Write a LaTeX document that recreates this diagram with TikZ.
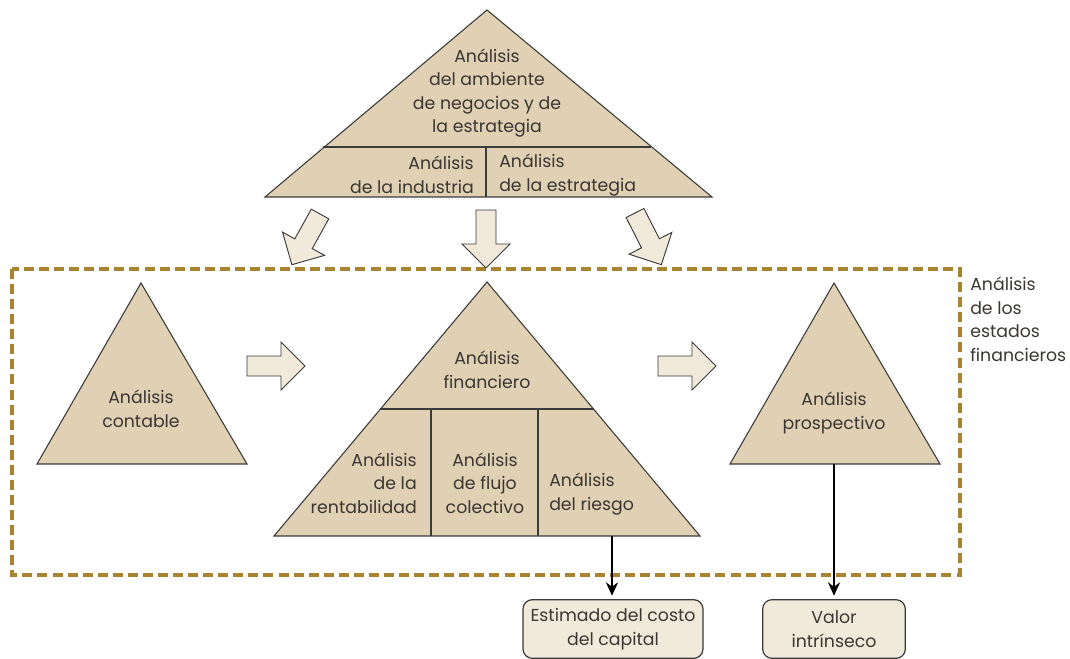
\documentclass[tikz,border=0pt]{standalone}
\usepackage{fontspec}
\setmainfont{Poppins}
\usetikzlibrary{arrows.meta, positioning, calc}
\definecolor{tanfill}{HTML}{E0D1B5}
\definecolor{creamfill}{HTML}{F1E9DA}
\definecolor{goldline}{HTML}{A98330}
\definecolor{inkgray}{HTML}{3B3632}
\definecolor{edgegray}{HTML}{3A3A3A}

\begin{document}
\begin{tikzpicture}[
    x=0.75pt, y=-0.75pt,
    every node/.style={font=\fontsize{13}{17.6}\selectfont, text=inkgray},
    tri/.style={fill=tanfill, draw=edgegray, line width=0.8pt},
    divline/.style={draw=edgegray, line width=0.8pt},
    lbl/.style={align=center, inner sep=0pt},
    blk/.style={fill=creamfill, draw=edgegray, line width=0.7pt},
    outbox/.style={rectangle, draw=edgegray, fill=creamfill, rounded corners=7pt,
                   line width=0.9pt, minimum height=44pt, align=center, inner sep=2pt},
    arr/.style={-{Stealth[length=10pt, width=9pt]}, line width=2pt, black, shorten >=2.5pt},
    frame/.style={draw=goldline, line width=2.4pt, dash pattern=on 7.5pt off 3.8pt},
    blockarr/.pic={\filldraw[blk] (0,-10) -- (34,-10) -- (34,-24) -- (58,0)
                   -- (34,24) -- (34,10) -- (0,10) -- cycle;}
]
    \useasboundingbox (0,0) rectangle (1070,659);

    % corner points of the triangles
    \coordinate (envtop) at (487,10);
    \coordinate (envbl) at (265,197);
    \coordinate (envbr) at (712,197);
    \coordinate (acctop) at (141,283);
    \coordinate (accbl) at (37,464);
    \coordinate (accbr) at (247,464);
    \coordinate (fintop) at (487,282);
    \coordinate (finbl) at (274,536);
    \coordinate (finbr) at (700,536);
    \coordinate (protop) at (834,283);
    \coordinate (probl) at (730,464);
    \coordinate (probr) at (940,464);

    % dashed frame of the statement analysis
    \draw[frame] (12,269) rectangle (960,575);

    % business strategy pyramid
    \filldraw[tri] (envtop) -- (envbl) -- (envbr) -- cycle;
    \draw[divline] (323,147) -- (651,147);
    \draw[divline] (486,147) -- (486,197);

    \node[lbl] (envtxt) at (487,93) {Análisis\\del ambiente\\de negocios y de\\la estrategia};
    \node[lbl, align=right, anchor=east] (indtxt) at (474,175) {Análisis\\de la industria};
    \node[lbl, align=left, anchor=west] (strtxt) at (499,175) {Análisis\\de la estrategia};

    % arrows into the frame
    \pic[rotate=-119] at (320,214) {blockarr};
    \pic[rotate=-90] at (486,210) {blockarr};
    \pic[rotate=-63] at (635,213) {blockarr};

    % accounting
    \filldraw[tri] (acctop) -- (accbl) -- (accbr) -- cycle;
    \node[lbl] (acctxt) at (141,409) {Análisis\\contable};

    \pic at (247,366) {blockarr};

    % financial analysis
    \filldraw[tri] (fintop) -- (finbl) -- (finbr) -- cycle;
    \draw[divline] (380,409) -- (594,409);
    \draw[divline] (431,409) -- (431,536);
    \draw[divline] (538,409) -- (538,536);

    \node[lbl] (fintxt) at (487,370) {Análisis\\financiero};
    \node[lbl, align=right, anchor=east] (rentxt) at (417,483) {Análisis\\de la\\rentabilidad};
    \node[lbl] (flutxt) at (485,483) {Análisis\\de flujo\\colectivo};
    \node[lbl, align=left, anchor=west] (risktxt) at (549,494) {Análisis\\del riesgo};

    \pic at (658,366) {blockarr};

    % prospective analysis
    \filldraw[tri] (protop) -- (probl) -- (probr) -- cycle;
    \node[lbl] (protxt) at (834,413) {Análisis\\prospectivo};

    \node[lbl, align=left, anchor=north west] (fstxt) at (970,277)
        {Análisis\\de los\\estados\\financieros};

    % outputs
    \node[outbox, minimum width=135pt] (costbox) at (613,629) {Estimado del costo\\del capital};
    \node[outbox, minimum width=107pt] (valbox) at (834,629) {Valor\\intrínseco};

    \coordinate (riskout) at (612,536);
    \coordinate (proout) at (834,464);
    \draw[arr] (riskout) -- (riskout |- costbox.north);
    \draw[arr] (proout) -- (valbox.north);
\end{tikzpicture}
\end{document}
